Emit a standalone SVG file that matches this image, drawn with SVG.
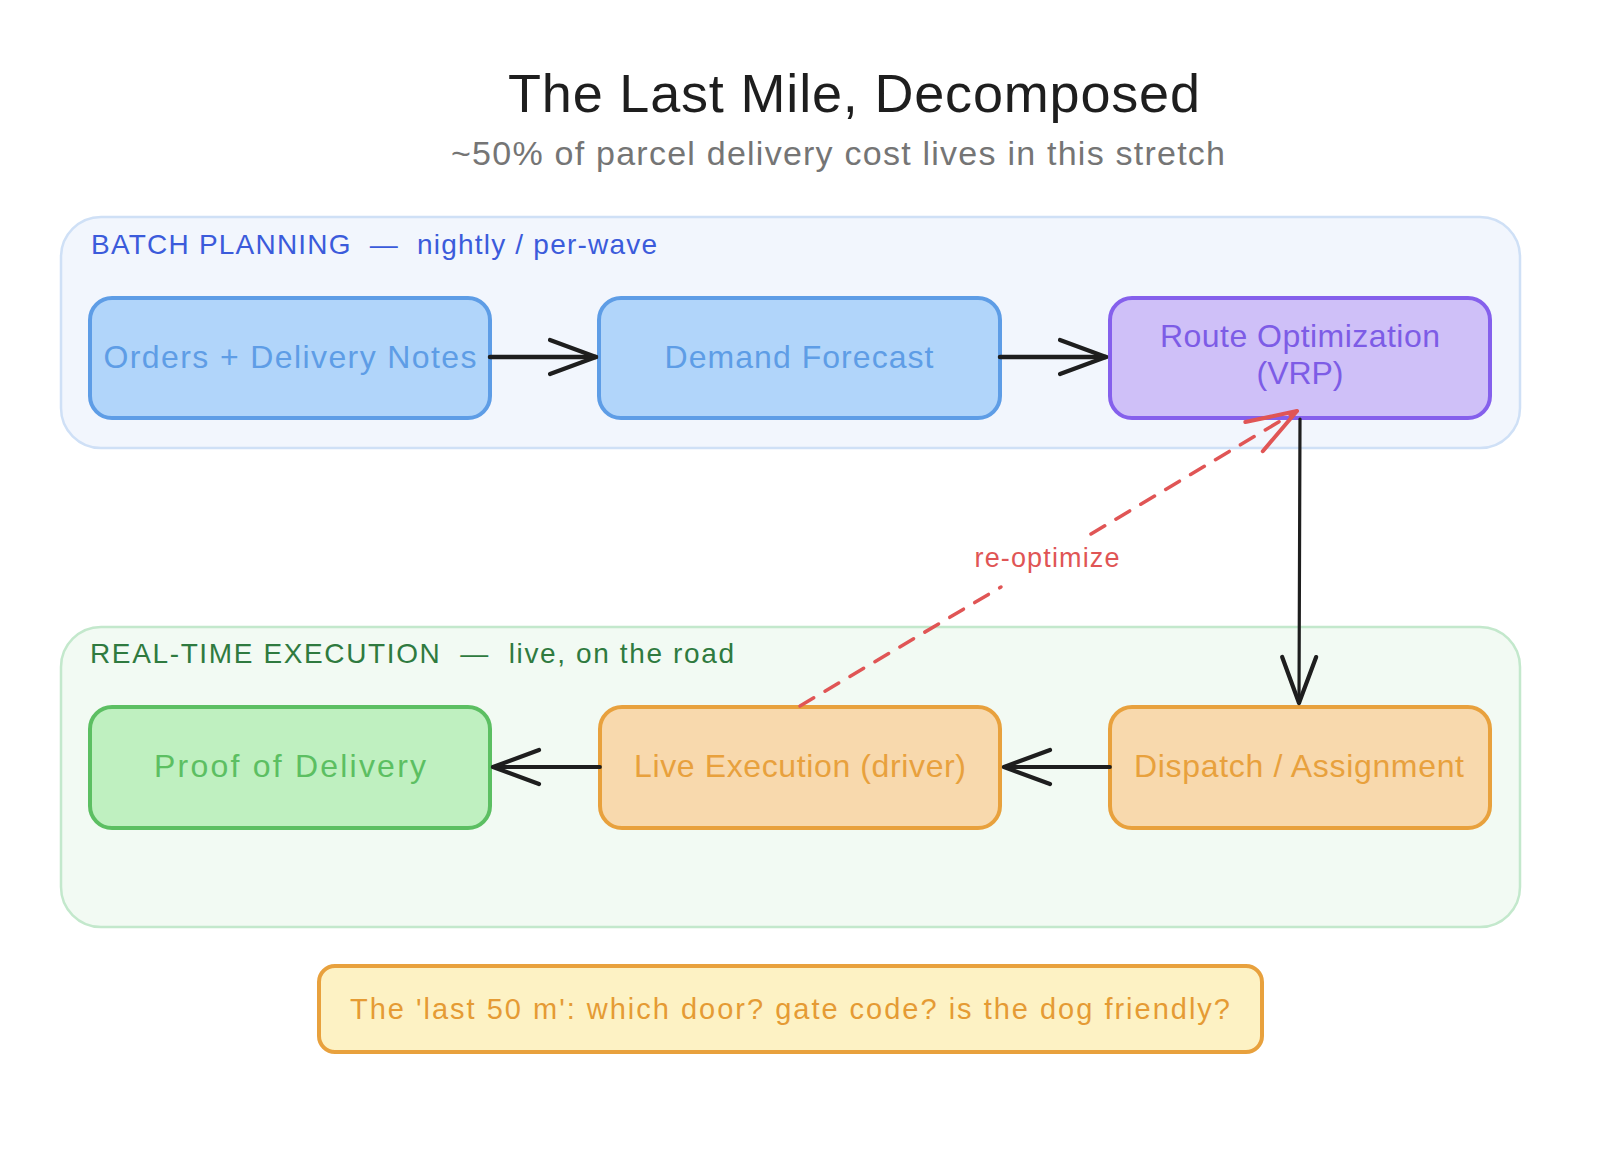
<svg xmlns="http://www.w3.org/2000/svg" width="1598" height="1168" viewBox="0 0 1598 1168">
  <style>
    text { font-family: "Liberation Sans", Arial, sans-serif; }
    .title { font-size: 54px; fill: #1e1e1e; }
    .subtitle { font-size: 34px; fill: #757575; }
    .grp-label { font-size: 28px; }
    .node-text { font-size: 32px; text-anchor: middle; }
    .zone-batch { fill: #f2f6fd; stroke: #cfe0f6; stroke-width: 2.5; }
    .zone-exec { fill: #f2faf3; stroke: #c3e8cc; stroke-width: 2.5; }
    .n-blue rect { fill: #b1d5fa; stroke: #5e9de6; stroke-width: 4; }
    .n-blue text { fill: #5e9de6; }
    .n-purple rect { fill: #cfc0f8; stroke: #8560ec; stroke-width: 4; }
    .n-purple text { fill: #7d5ce6; }
    .n-orange rect { fill: #f8d9ad; stroke: #e8a13d; stroke-width: 4; }
    .n-orange text { fill: #e8a13d; }
    .n-green rect { fill: #bff0c0; stroke: #5cbf62; stroke-width: 4; }
    .n-green text { fill: #5cbf62; }
    .note rect { fill: #fdf2c4; stroke: #e8a13d; stroke-width: 4; }
    .note text { fill: #e59b34; font-size: 29px; }
    .conn { fill: none; stroke: #1e1e1e; stroke-linecap: round; stroke-linejoin: round; }
    .conn-red { fill: none; stroke: #e05555; stroke-width: 3.5; stroke-linecap: round; stroke-dasharray: 16 13; }
    .conn-label { font-size: 27px; fill: #e05555; text-anchor: middle; }
  </style>
  <defs>
    <marker id="head-black" markerUnits="userSpaceOnUse" viewBox="-60 -30 70 60" refX="0" refY="0" markerWidth="70" markerHeight="60" orient="auto" overflow="visible">
      <path d="M -46 -17 L 0 0 L -46 17" fill="none" stroke="#1e1e1e" stroke-width="4.2" stroke-linecap="round" stroke-linejoin="round"/>
    </marker>
    <marker id="head-red" markerUnits="userSpaceOnUse" viewBox="-60 -30 70 60" refX="0" refY="0" markerWidth="70" markerHeight="60" orient="auto" overflow="visible">
      <path d="M -50 -17 L 0 0 L -50 17" fill="none" stroke="#e05555" stroke-width="4" stroke-linecap="round" stroke-linejoin="round"/>
    </marker>
  </defs>

  <rect width="1598" height="1168" fill="#ffffff"/>

  <g id="title">
    <text class="title" x="854" y="112" text-anchor="middle" textLength="692">The Last Mile, Decomposed</text>
    <text class="subtitle" x="838" y="165" text-anchor="middle" textLength="774">~50% of parcel delivery cost lives in this stretch</text>
  </g>

  <g id="zone-batch-planning">
    <rect class="zone-batch" x="61" y="217" width="1459" height="231" rx="40"/>
    <text class="grp-label" x="91" y="254" fill="#3b5bdb" textLength="566" xml:space="preserve">BATCH PLANNING  —  nightly / per-wave</text>
  </g>

  <g id="zone-realtime-execution">
    <rect class="zone-exec" x="61" y="627" width="1459" height="300" rx="40"/>
    <text class="grp-label" x="90" y="663" fill="#2f7a3f" textLength="644" xml:space="preserve">REAL-TIME EXECUTION  —  live, on the road</text>
  </g>

  <g id="node-orders" class="n-blue">
    <rect x="90" y="298" width="400" height="120" rx="22"/>
    <text class="node-text" x="290" y="368" textLength="373">Orders + Delivery Notes</text>
  </g>

  <g id="node-demand-forecast" class="n-blue">
    <rect x="599" y="298" width="401" height="120" rx="22"/>
    <text class="node-text" x="799" y="368" textLength="269">Demand Forecast</text>
  </g>

  <g id="node-route-optimization" class="n-purple">
    <rect x="1110" y="298" width="380" height="120" rx="22"/>
    <text class="node-text" x="1300" y="347" textLength="280">Route Optimization</text>
    <text class="node-text" x="1300" y="384" textLength="87">(VRP)</text>
  </g>

  <g id="node-proof-of-delivery" class="n-green">
    <rect x="90" y="707" width="400" height="121" rx="22"/>
    <text class="node-text" x="290" y="777" textLength="272">Proof of Delivery</text>
  </g>

  <g id="node-live-execution" class="n-orange">
    <rect x="600" y="707" width="400" height="121" rx="22"/>
    <text class="node-text" x="800" y="777" textLength="332">Live Execution (driver)</text>
  </g>

  <g id="node-dispatch" class="n-orange">
    <rect x="1110" y="707" width="380" height="121" rx="22"/>
    <text class="node-text" x="1299" y="777" textLength="330">Dispatch / Assignment</text>
  </g>

  <g id="note-last-50m" class="note">
    <rect x="319" y="966" width="943" height="86" rx="16"/>
    <text x="350" y="1019" textLength="880">The 'last 50 m': which door? gate code? is the dog friendly?</text>
  </g>

  <g id="connectors">
    <path class="conn" d="M 490 357 L 596 357" stroke-width="4.5" marker-end="url(#head-black)"/>
    <path class="conn" d="M 1000 357 L 1106 357" stroke-width="4.5" marker-end="url(#head-black)"/>
    <path class="conn" d="M 1300 419 L 1299 703" stroke-width="3.2" marker-end="url(#head-black)"/>
    <path class="conn" d="M 1110 767 L 1004 767" stroke-width="3.8" marker-end="url(#head-black)"/>
    <path class="conn" d="M 600 767 L 493 767" stroke-width="3.8" marker-end="url(#head-black)"/>
    <g id="conn-reoptimize">
      <path class="conn-red" d="M 800 706 L 1001 587"/>
      <path class="conn-red" d="M 1091 534 L 1297 411" marker-end="url(#head-red)"/>
      <text class="conn-label" x="1047" y="567" textLength="145">re-optimize</text>
    </g>
  </g>
</svg>
